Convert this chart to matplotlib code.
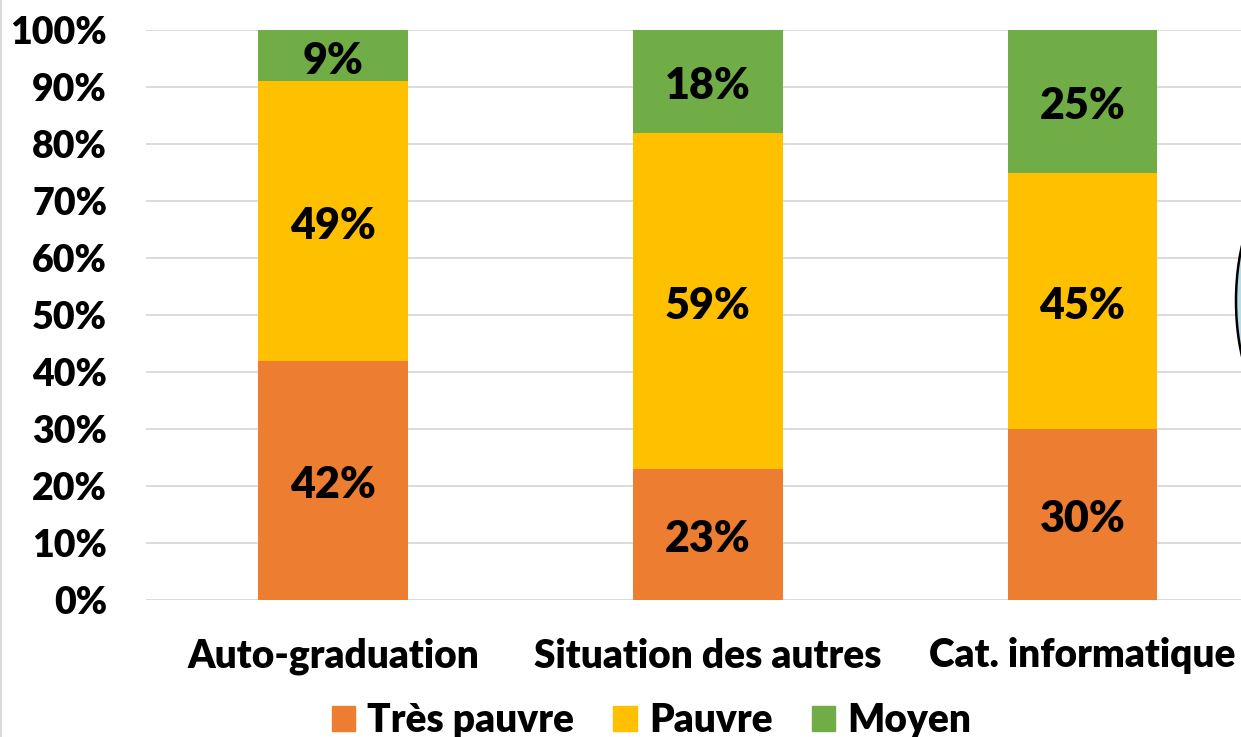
import matplotlib.pyplot as plt
from matplotlib.patches import Ellipse, Patch
from matplotlib.lines import Line2D

# data
categories = ["Auto-graduation", "Situation des autres", "Cat. informatique"]
tres_pauvre = [42, 23, 30]
pauvre = [49, 59, 45]
moyen = [9, 18, 25]
series_names = ["Très pauvre", "Pauvre", "Moyen"]
colours = ["#ED7D31", "#FFC000", "#70AD47"]

plt.rcParams['font.family'] = ['Lato', 'DejaVu Sans']
plt.rcParams['font.weight'] = 'heavy'
fs = 27

W, H = 1241, 737
fig = plt.figure(figsize=(W / 100, H / 100), dpi=100)
ax = fig.add_axes([146 / W, 137 / H, 1095 / W, 570 / H])

x = list(range(len(categories)))
bottom = [0, 0, 0]
for vals, col in zip([tres_pauvre, pauvre, moyen], colours):
    ax.bar(x, vals, width=0.4, bottom=bottom, color=col, zorder=2)
    for i, v in enumerate(vals):
        ax.annotate(f"{v}%", (x[i], bottom[i] + v / 2), xytext=(0, -3.5),
                    textcoords="offset points", ha="center", va="center",
                    fontsize=31, fontweight="heavy", color="black", zorder=3)
    bottom = [b + v for b, v in zip(bottom, vals)]

ax.set_xlim(-0.5, 2.423)
ax.set_ylim(0, 100)
ax.set_yticks(range(0, 101, 10))
ax.set_yticklabels([f"{t}%" for t in range(0, 101, 10)])
ax.set_xticks(x)
ax.set_xticklabels(categories)
ax.tick_params(axis="y", length=0, pad=28, labelsize=fs)
ax.tick_params(axis="x", length=0, pad=27, labelsize=28)
ax.grid(axis="y", color="#d9d9d9", lw=1.3, zorder=0)
for s in ax.spines.values():
    s.set_visible(False)

handles = [Patch(color=c, label=n) for c, n in zip(colours, series_names)]
fig.legend(handles=handles, loc="center", bbox_to_anchor=(0.525, 0.022),
           ncol=3, frameon=False, fontsize=28, handlelength=0.6,
           handleheight=0.6, handletextpad=0.32, columnspacing=1.0)

# border line at left and partial shape at right edge
fig.add_artist(Line2D([0.8 / W, 0.8 / W], [0, 1], color="#d9d9d9", lw=1.5,
                      transform=fig.transFigure))
ell = Ellipse((1276 / W, (H - 301) / H), 80 / W, 210 / H,
              facecolor="#b7dee4", edgecolor="black", lw=1.8,
              transform=fig.transFigure)
fig.add_artist(ell)

fig.savefig("out.png", dpi=100)
